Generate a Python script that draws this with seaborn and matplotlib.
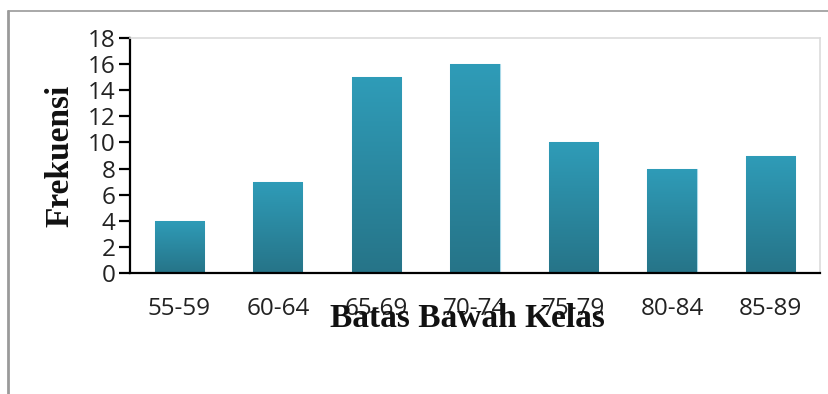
import numpy as np
import pandas as pd
import matplotlib
matplotlib.use("Agg")
import matplotlib.pyplot as plt
from matplotlib.lines import Line2D
from matplotlib.colors import LinearSegmentedColormap
import seaborn as sns

# Frequency distribution by class interval
classes = ["55-59", "60-64", "65-69", "70-74", "75-79", "80-84", "85-89"]
frequencies = [4, 7, 15, 16, 10, 8, 9]
y_ticks = [0, 2, 4, 6, 8, 10, 12, 14, 16, 18]

df = pd.DataFrame({"kelas": classes, "frekuensi": frequencies})

sns.set_theme(style="white")
plt.rcParams["font.family"] = ["Open Sans", "DejaVu Sans"]

fig = plt.figure(figsize=(8.29, 3.94), dpi=100)
ax = fig.add_axes([130 / 829, 1 - 273 / 394, 690 / 829, 235 / 394])

sns.barplot(data=df, x="kelas", y="frekuensi", ax=ax, width=0.5,
            color="#2b8aa3", edgecolor="#a9d9e8", linewidth=0.8,
            saturation=1, zorder=2)

# vertical gradient fill on each bar (light teal at top, darker at base)
grad_cmap = LinearSegmentedColormap.from_list("teal", ["#267488", "#2f9cb8"])
gradient = np.linspace(0, 1, 256).reshape(-1, 1)
for patch in ax.patches:
    x0, y0 = patch.get_x(), patch.get_y()
    w, h = patch.get_width(), patch.get_height()
    im = ax.imshow(gradient, cmap=grad_cmap, origin="lower", aspect="auto",
                   extent=(x0, x0 + w, y0, y0 + h), zorder=2.5)
    im.set_clip_path(patch)

ax.set_xlim(-0.5, len(classes) - 0.5)
ax.set_ylim(0, 18)
ax.set_yticks(y_ticks)
ax.set_yticklabels([str(t) for t in y_ticks])

# spines: black left/bottom, faint grey top/right
for side in ["left", "bottom"]:
    ax.spines[side].set_color("black")
    ax.spines[side].set_linewidth(1.6)
for side in ["top", "right"]:
    ax.spines[side].set_visible(True)
    ax.spines[side].set_color("#dcdcdc")
    ax.spines[side].set_linewidth(1.2)

ax.tick_params(axis="y", left=True, length=8, width=1.6, color="black",
               pad=2.5, labelsize=17.5, labelcolor="#222222")
ax.tick_params(axis="x", bottom=False, length=0, pad=17,
               labelsize=17.5, labelcolor="#222222")

serif_bold = dict(family=["Liberation Serif", "DejaVu Serif"],
                  weight="bold", size=24, color="#111111")
ax.set_xlabel("Batas Bawah Kelas", **serif_bold)
ax.set_ylabel("Frekuensi", **serif_bold)
ax.xaxis.label.set_verticalalignment("baseline")
ax.yaxis.label.set_verticalalignment("baseline")
ax.xaxis.set_label_coords((467 - 130) / 690, (273 - 327) / 235)
ax.yaxis.set_label_coords((68 - 130) / 690, 0.5)

# outer frame around the figure (top and left edges)
fig.add_artist(Line2D([8 / 829, 1.0], [1 - 11 / 394, 1 - 11 / 394],
                      transform=fig.transFigure, color="#9a9a9a", lw=1.2))
fig.add_artist(Line2D([8 / 829, 8 / 829], [0, 1 - 11 / 394],
                      transform=fig.transFigure, color="#9a9a9a", lw=2.0))

fig.savefig("out.png", dpi=100)
